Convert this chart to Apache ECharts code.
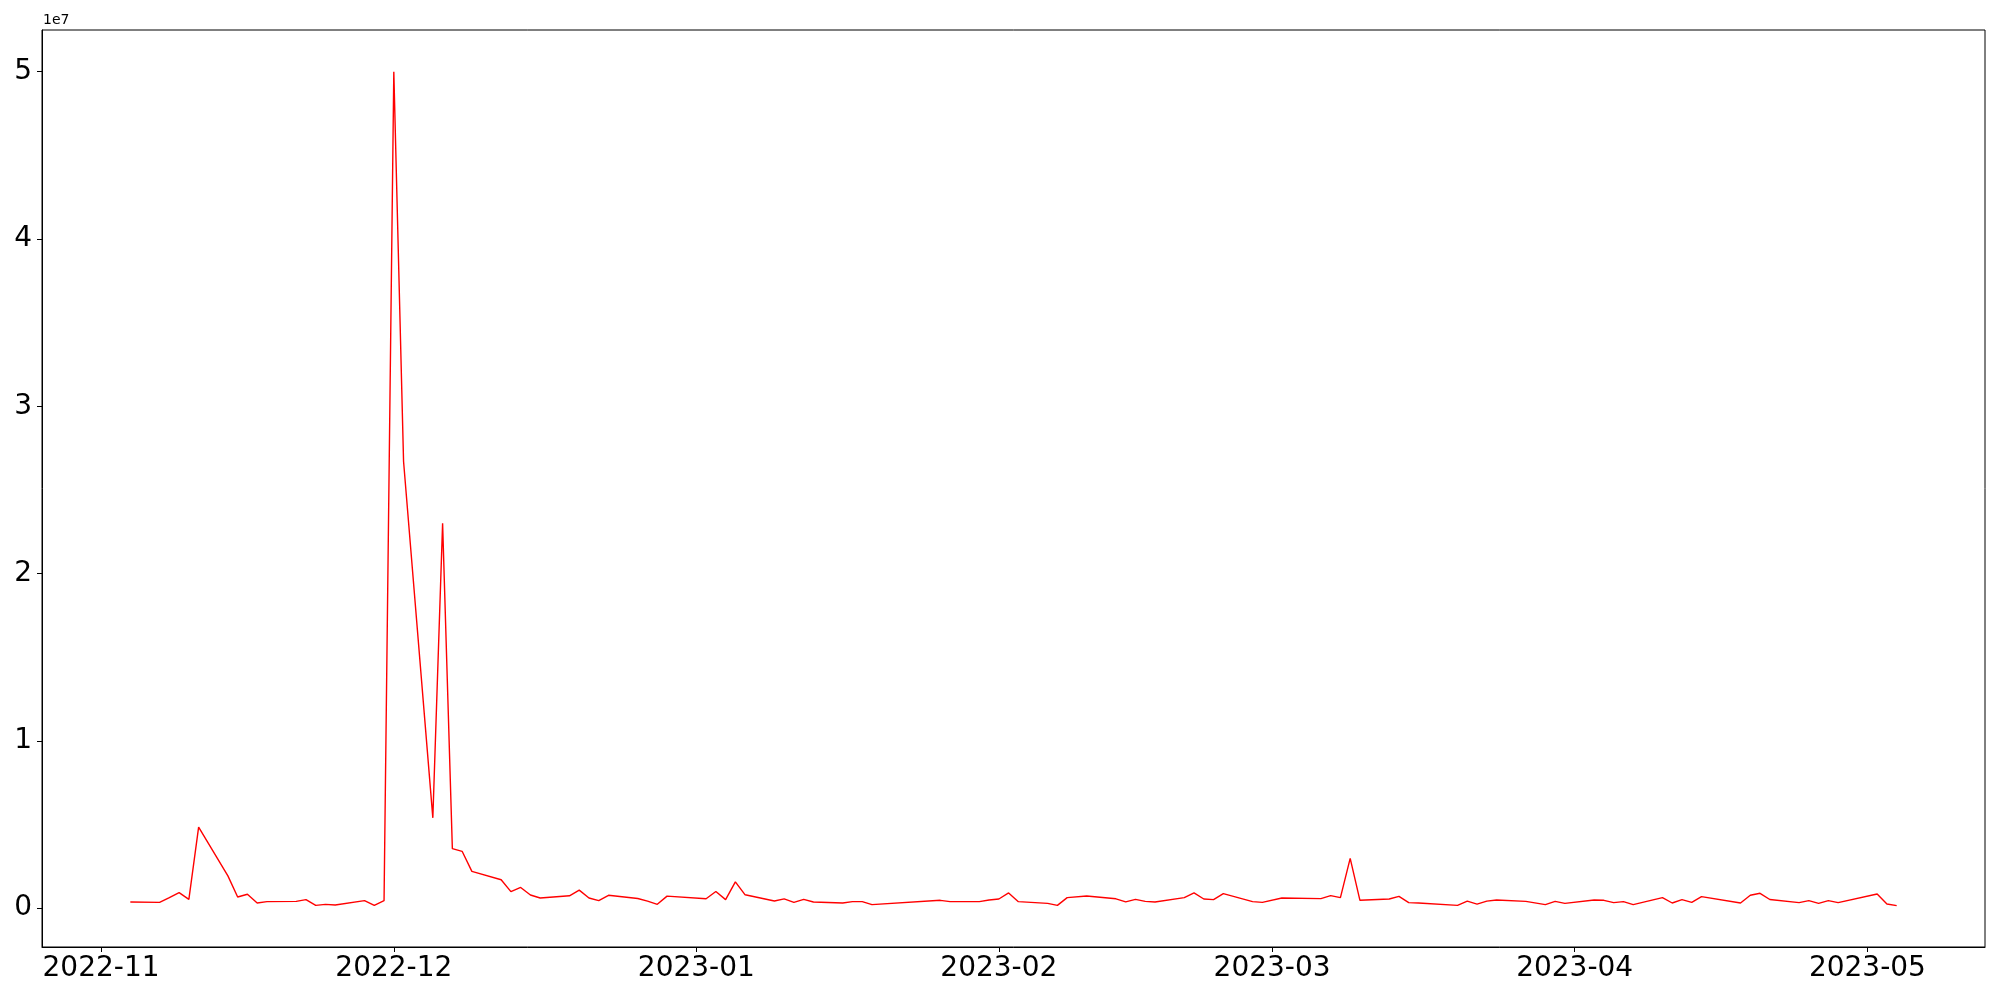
<!DOCTYPE html>
<html>
<head>
<meta charset="utf-8">
<script src="https://cdn.jsdelivr.net/npm/echarts@6/dist/echarts.min.js"></script>
<style>
  html, body { margin: 0; padding: 0; background: #fff; }
  #container { width: 2000px; height: 1000px; }
</style>
</head>
<body>
<div id="container"></div>
<script>
// dates of the points (only the visible vertices of the line)
var dates = [
  '2022-11-04', '2022-11-07', '2022-11-08', '2022-11-09', '2022-11-10', '2022-11-11',
  '2022-11-14', '2022-11-15', '2022-11-16', '2022-11-17', '2022-11-18',
  '2022-11-21', '2022-11-22', '2022-11-23', '2022-11-24', '2022-11-25',
  '2022-11-28', '2022-11-29', '2022-11-30', '2022-12-01', '2022-12-02',
  '2022-12-05', '2022-12-06', '2022-12-07', '2022-12-08', '2022-12-09',
  '2022-12-12', '2022-12-13', '2022-12-14', '2022-12-15', '2022-12-16',
  '2022-12-19', '2022-12-20', '2022-12-21', '2022-12-22', '2022-12-23',
  '2022-12-26', '2022-12-27', '2022-12-28', '2022-12-29',
  '2023-01-02', '2023-01-03', '2023-01-04', '2023-01-05', '2023-01-06',
  '2023-01-09', '2023-01-10', '2023-01-11', '2023-01-12', '2023-01-13',
  '2023-01-16', '2023-01-17', '2023-01-18', '2023-01-19',
  '2023-01-26', '2023-01-27', '2023-01-30', '2023-01-31',
  '2023-02-01', '2023-02-02', '2023-02-03', '2023-02-06', '2023-02-07', '2023-02-08', '2023-02-10',
  '2023-02-13', '2023-02-14', '2023-02-15', '2023-02-16', '2023-02-17',
  '2023-02-20', '2023-02-21', '2023-02-22', '2023-02-23', '2023-02-24',
  '2023-02-27', '2023-02-28', '2023-03-02',
  '2023-03-06', '2023-03-07', '2023-03-08', '2023-03-09', '2023-03-10',
  '2023-03-13', '2023-03-14', '2023-03-15', '2023-03-16',
  '2023-03-20', '2023-03-21', '2023-03-22', '2023-03-23', '2023-03-24',
  '2023-03-27', '2023-03-29', '2023-03-30', '2023-03-31',
  '2023-04-03', '2023-04-04', '2023-04-05', '2023-04-06', '2023-04-07',
  '2023-04-10', '2023-04-11', '2023-04-12', '2023-04-13', '2023-04-14',
  '2023-04-18', '2023-04-19', '2023-04-20', '2023-04-21',
  '2023-04-24', '2023-04-25', '2023-04-26', '2023-04-27', '2023-04-28',
  '2023-05-02', '2023-05-03', '2023-05-04'
];
// values in millions
var values = [
  0.37, 0.35, 0.63, 0.93, 0.53, 4.85,
  1.93, 0.67, 0.83, 0.31, 0.39,
  0.41, 0.51, 0.17, 0.23, 0.19,
  0.45, 0.17, 0.45, 50.0, 26.7,
  5.4, 23.0, 3.56, 3.40, 2.20,
  1.70, 0.99, 1.24, 0.79, 0.61,
  0.74, 1.08, 0.61, 0.45, 0.77,
  0.58, 0.42, 0.23, 0.72,
  0.56, 1.00, 0.51, 1.57, 0.80,
  0.43, 0.56, 0.35, 0.53, 0.37,
  0.31, 0.39, 0.39, 0.21,
  0.47, 0.39, 0.39, 0.49,
  0.55, 0.91, 0.39, 0.29, 0.17, 0.63, 0.73,
  0.56, 0.38, 0.53, 0.41, 0.37,
  0.63, 0.91, 0.55, 0.51, 0.87,
  0.39, 0.35, 0.61,
  0.57, 0.75, 0.63, 2.98, 0.47,
  0.55, 0.71, 0.33, 0.31,
  0.17, 0.42, 0.24, 0.42, 0.49,
  0.41, 0.21, 0.41, 0.29,
  0.49, 0.47, 0.33, 0.39, 0.21,
  0.63, 0.31, 0.51, 0.35, 0.69,
  0.31, 0.77, 0.89, 0.52,
  0.33, 0.45, 0.29, 0.45, 0.33,
  0.85, 0.25, 0.15
];
var monthTicks = ['2022-11-01', '2022-12-01', '2023-01-01', '2023-02-01', '2023-03-01', '2023-04-01', '2023-05-01'];
var yTicks = [0, 1, 2, 3, 4, 5]; // x 1e7

function ts(s) {
  var p = s.split('-');
  return Date.UTC(+p[0], +p[1] - 1, +p[2]);
}
function pad(n) { return n < 10 ? '0' + n : '' + n; }

var monthTs = monthTicks.map(ts);
var yTickVals = yTicks.map(function (v) { return v * 1e7; });
var seriesData = dates.map(function (d, i) { return [ts(d), values[i] * 1e6]; });

// matplotlib-like 5% margins
var xSpan = ts(dates[dates.length - 1]) - ts(dates[0]);
var xMin = ts(dates[0]) - xSpan * 0.05;
var xMax = ts(dates[dates.length - 1]) + xSpan * 0.05;

var dom = document.getElementById('container');
var myChart = echarts.init(dom, null, { renderer: 'canvas' });

var option = {
  animation: false,
  backgroundColor: '#fff',
  grid: {
    left: 42, right: 15, top: 30, bottom: 53,
    show: true, borderColor: '#000', borderWidth: 1, backgroundColor: 'transparent'
  },
  graphic: [{
    type: 'text', left: 43, top: 13,
    style: { text: '1e7', font: '14px "DejaVu Sans"', fill: '#000' }
  }],
  xAxis: {
    type: 'value',
    min: xMin,
    max: xMax,
    axisLine: { show: true, onZero: false, lineStyle: { color: '#000', width: 1 } },
    axisTick: { show: true, customValues: monthTs, length: 5, lineStyle: { color: '#000' } },
    axisLabel: {
      customValues: monthTs,
      fontSize: 28, fontFamily: 'DejaVu Sans', color: '#000', margin: 8,
      formatter: function (v) {
        var d = new Date(v);
        return d.getUTCFullYear() + '-' + pad(d.getUTCMonth() + 1);
      }
    },
    splitLine: { show: false }
  },
  yAxis: {
    type: 'value',
    min: -2.32e6,
    max: 52.49e6,
    axisLine: { show: true, lineStyle: { color: '#000', width: 1 } },
    axisTick: { show: true, customValues: yTickVals, length: 5, lineStyle: { color: '#000' } },
    axisLabel: {
      customValues: yTickVals,
      fontSize: 28, fontFamily: 'DejaVu Sans', color: '#000', margin: 10,
      formatter: function (v) { return String(Math.round(v / 1e7)); }
    },
    splitLine: { show: false }
  },
  series: [{
    type: 'line',
    data: seriesData,
    showSymbol: false,
    lineStyle: { color: '#ff0000', width: 1.4 },
    itemStyle: { color: '#ff0000' }
  }]
};

myChart.setOption(option);
window.addEventListener('resize', myChart.resize);
</script>
</body>
</html>
